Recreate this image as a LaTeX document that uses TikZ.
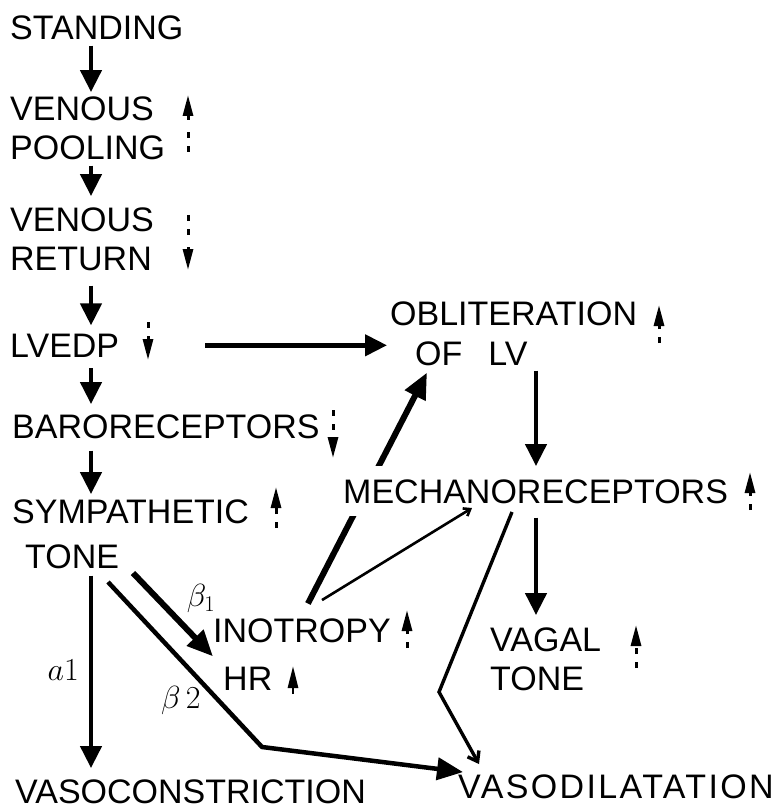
\documentclass[tikz,border=0pt]{standalone}
\usepackage{fix-cm}
\usepackage[no-math]{fontspec}
\setmainfont{Liberation Sans}
\usetikzlibrary{arrows.meta,positioning,calc}
\pgfdeclarelayer{back}
\pgfsetlayers{back,main}
\tikzset{
  term/.style={anchor=base west,inner sep=3pt,align=left,fill=white,
    font=\fontsize{34}{39}\selectfont},
  flow/.style={-{Triangle[length=22pt,width=21pt]},line width=4.4pt,shorten <=4pt,shorten >=5pt},
  heavyflow/.style={-{Triangle[length=26pt,width=22pt]},line width=6pt},
  lightflow/.style={-{Straight Barb[length=9pt,width=13pt]},line width=3.4pt},
  upind/.style={-{Triangle[length=21pt,width=10pt]},line width=3pt,
    dash pattern=on 6pt off 8pt on 6pt off 12pt},
  greek/.style={inner sep=0pt,font=\fontsize{32}{32}\selectfont}
}

\begin{document}
\begin{tikzpicture}[x=1pt,y=-1pt]
  \useasboundingbox (0,0) rectangle (776,810);
  % chain on the left
  \node[term] (stand) at (7,40) {STANDING};
  \node[term] (pool) at (7,160) {VENOUS\\POOLING};
  \node[term] (ret) at (7,270) {VENOUS\\RETURN};
  \node[term] (lvedp) at (7,357) {LVEDP};
  \node[term] (baro) at (9,438) {BARORECEPTORS};
  \node[term] (symp) at (9,568) {SYMPATHETIC\\[6pt]\hspace*{13pt}TONE};
  % heart side
  \node[term] (oblit) at (387,365) {OBLITERATION\\[1pt]\hspace*{25pt}OF\hspace{26pt}LV};
  \node[term,inner ysep=13pt] (mech) at (340,503) {MECHANORECEPTORS};
  \node[term] (ino) at (210,642) {INOTROPY};
  \node[term] (hr) at (220,690) {HR};
  \node[term] (vagal) at (487,690) {VAGAL\\TONE};
  \node[term] (vcon) at (12,803) {VASOCONSTRICTION};
  \node[term] (vdil) at (455,798) {\addfontfeature{LetterSpace=7}VASODILATATION};

  \coordinate (lcol) at (91,0);
  \coordinate (rcol) at (536,0);
  \coordinate (b1s) at (133,573);
  \coordinate (b2s) at (108,582);
  \coordinate (bend1) at (439,692);
  \coordinate (bend2) at (262,747);

  \draw[flow,shorten <=2pt,shorten >=2pt] (stand.south -| lcol) -- (pool.north -| lcol);
  \draw[flow,shorten <=2pt,shorten >=8pt] (pool.south -| lcol) -- (ret.north -| lcol);
  \draw[flow,shorten <=12pt] (ret.south -| lcol) -- (lvedp.north -| lcol);
  \draw[flow,shorten <=8pt,shorten >=7pt] (lvedp.south -| lcol) -- (baro.north -| lcol);
  \draw[flow,shorten <=9pt,shorten >=2pt] (baro.south -| lcol) -- (symp.north -| lcol);
  \draw[flow,shorten >=8pt] (symp.south -| lcol) -- (vcon.north -| lcol)
    node[pos=0.48,left=10pt,greek]{$a1$};
  \draw[flow,shorten <=83pt,shorten >=0pt] (lvedp.east) -- (lvedp.east -| oblit.west);
  \draw[flow,shorten <=2pt,shorten >=0pt] (oblit.south -| rcol) -- (mech.north -| rcol);
  \draw[flow,shorten <=1pt,shorten >=9pt] (mech.south -| rcol) -- (vagal.north -| rcol);

  \begin{pgfonlayer}{back}
    \draw[heavyflow,shorten <=13pt] (ino.north) -- ([xshift=40pt,yshift=-4pt]oblit.south west);
  \end{pgfonlayer}
  \draw[lightflow,line width=2.6pt,-{Straight Barb[length=6pt,width=9pt]}]
    ($(ino.north)+(20,-15)$) -- ($(mech.base west)+(132,5)$);
  \draw[lightflow] ($(mech.base west)+(172,9)$) -- (bend1) -- ($(vdil.north west)+(24,-7)$);

  \draw[heavyflow] (b1s) -- ([xshift=-7pt,yshift=7pt]hr.north west)
    node[pos=0.55,xshift=24pt,yshift=20pt,greek]{$\beta_1$};
  \draw[heavyflow,line width=4.5pt] (b2s) -- (bend2)
    node[pos=0.72,left=16pt,greek]{$\beta\,2$}
    -- ($(vdil.north west)+(8,1)$);

  % up and down marks
  \foreach \x/\ya/\yb in {188/152/95, 188/215/270, 148/322/360, 333/410/458,
      276/528/487, 659/343/305, 750/510/472, 407/648/610, 636/668/625}
    \draw[upind] (\x,\ya) -- (\x,\yb);
  \draw[-{Triangle[length=22pt,width=10pt]},line width=2.6pt] (293,694) -- (293,666);
\end{tikzpicture}
\end{document}
